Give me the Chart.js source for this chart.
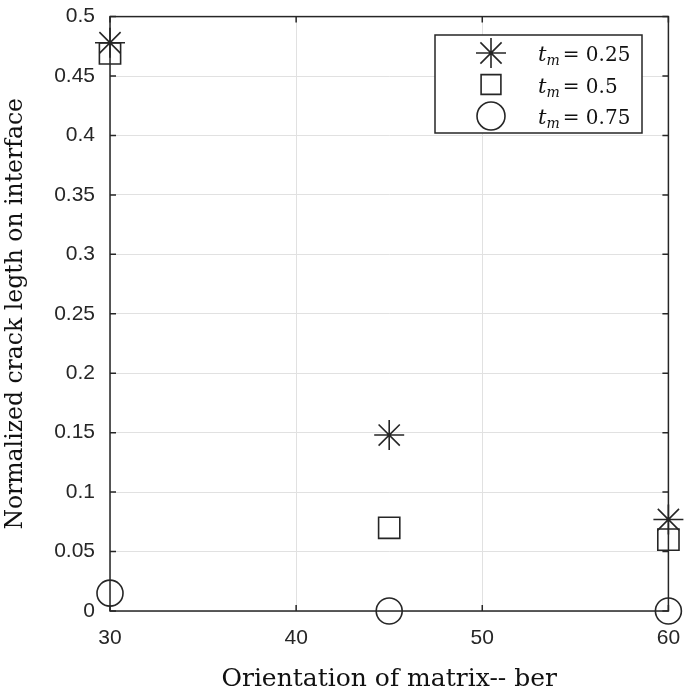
<!DOCTYPE html>
<html>
<head>
<meta charset="utf-8">
<script src="https://cdn.jsdelivr.net/npm/chart.js@4/dist/chart.umd.min.js"></script>
<style>
html,body{margin:0;padding:0;background:#fff;}
#wrap{width:685px;height:695px;}
</style>
</head>
<body>
<div id="wrap"><canvas id="c" width="685" height="695"></canvas></div>
<script>
// ---- data ----
const orientations = [30, 45, 60];
const tm025 = [0.478, 0.148, 0.077];
const tm050 = [0.469, 0.070, 0.060];
const tm075 = [0.015, 0.000, 0.000];
const seriesValues = ['0.25', '0.5', '0.75'];
const xTickValues = [30, 40, 50, 60];
const yTickValues = [0, 0.05, 0.1, 0.15, 0.2, 0.25, 0.3, 0.35, 0.4, 0.45, 0.5];
const yTickLabels = ['0', '0.05', '0.1', '0.15', '0.2', '0.25', '0.3', '0.35', '0.4', '0.45', '0.5'];
const xTitle = 'Orientation of matrix-- ber';
const yTitle = 'Normalized crack legth on interface';

const AX = '#262626';
const SERIF = '"DejaVu Serif", "Liberation Serif", serif';
const SANS = '"Liberation Sans", Arial, sans-serif';
const styles = ['star', 'rect', 'circle'];
const radii = [15, 15, 13];

function pts(ys) { return orientations.map((x, i) => ({x: x, y: ys[i]})); }

const frame = {
  id: 'frame',
  beforeDatasetsDraw(chart) {
    const {ctx, chartArea: a, scales: {x, y}} = chart;
    ctx.save();
    ctx.strokeStyle = AX;
    ctx.lineWidth = 1.5;
    const tl = 6;
    ctx.beginPath();
    xTickValues.forEach(v => {
      const px = x.getPixelForValue(v);
      ctx.moveTo(px, a.bottom); ctx.lineTo(px, a.bottom - tl);
      ctx.moveTo(px, a.top); ctx.lineTo(px, a.top + tl);
    });
    yTickValues.forEach(v => {
      const py = y.getPixelForValue(v);
      ctx.moveTo(a.left, py); ctx.lineTo(a.left + tl, py);
      ctx.moveTo(a.right, py); ctx.lineTo(a.right - tl, py);
    });
    ctx.stroke();
    ctx.strokeRect(a.left, a.top, a.right - a.left, a.bottom - a.top);
    ctx.restore();
  }
};

function marker(ctx, style, r, cx, cy) {
  ctx.save();
  ctx.strokeStyle = AX;
  ctx.fillStyle = 'rgba(0,0,0,0)';
  ctx.lineWidth = 1.6;
  if (Chart.helpers && Chart.helpers.drawPoint) {
    Chart.helpers.drawPoint(ctx, {pointStyle: style, radius: r, borderWidth: 1.6, rotation: 0}, cx, cy);
  } else {
    ctx.beginPath();
    if (style === 'circle') { ctx.arc(cx, cy, r, 0, Math.PI * 2); }
    else if (style === 'rect') { const s = r * Math.SQRT1_2; ctx.rect(cx - s, cy - s, 2 * s, 2 * s); }
    else {
      for (let k = 0; k < 4; k++) {
        const t = k * Math.PI / 4;
        ctx.moveTo(cx - Math.cos(t) * r, cy - Math.sin(t) * r);
        ctx.lineTo(cx + Math.cos(t) * r, cy + Math.sin(t) * r);
      }
    }
    ctx.stroke();
  }
  ctx.restore();
}

const legendBox = {
  id: 'legendBox',
  afterDraw(chart) {
    const ctx = chart.ctx;
    const bx = 435, by = 35, bw = 207, bh = 98;
    ctx.save();
    ctx.fillStyle = '#fff';
    ctx.fillRect(bx, by, bw, bh);
    ctx.strokeStyle = AX;
    ctx.lineWidth = 1.5;
    ctx.strokeRect(bx, by, bw, bh);
    const rows = [53, 84.5, 116];
    seriesValues.forEach((val, i) => {
      const cy = rows[i];
      marker(ctx, styles[i], [15, 14, 14][i], 491, cy);
      ctx.fillStyle = '#111';
      ctx.textBaseline = 'alphabetic';
      let tx = 538;
      const base = cy + 8;
      ctx.font = 'italic 21px ' + SERIF;
      ctx.fillText('t', tx, base);
      tx += ctx.measureText('t').width;
      ctx.font = 'italic 14px ' + SERIF;
      ctx.fillText('m', tx, base + 4);
      tx += ctx.measureText('m').width + 3;
      ctx.font = '20px ' + SERIF;
      ctx.fillText('= ' + val, tx, base);
    });
    ctx.restore();
  }
};

new Chart(document.getElementById('c'), {
  type: 'scatter',
  data: {
    datasets: [tm025, tm050, tm075].map((ys, i) => ({
      label: 't_m = ' + seriesValues[i],
      data: pts(ys),
      pointStyle: styles[i],
      pointRadius: radii[i],
      pointHoverRadius: radii[i],
      pointBorderWidth: 1.6,
      pointBorderColor: AX,
      pointBackgroundColor: 'rgba(0,0,0,0)',
      showLine: false,
      clip: false
    }))
  },
  options: {
    responsive: false,
    animation: false,
    devicePixelRatio: 1,
    layout: {padding: {left: 0, top: 10, right: 16, bottom: 0}},
    plugins: {legend: {display: false}, tooltip: {enabled: false}},
    events: [],
    scales: {
      x: {
        type: 'linear', min: 30, max: 60,
        afterBuildTicks: s => { s.ticks = xTickValues.map(v => ({value: v})); },
        afterFit: s => { s.height = 84; s.paddingLeft = 0; s.paddingRight = 0; },
        ticks: {color: AX, font: {family: SANS, size: 21}, padding: 15, maxRotation: 0,
          callback: v => String(v)},
        grid: {color: '#e1e1e1', lineWidth: 1, drawTicks: false},
        border: {display: false},
        title: {display: true, text: xTitle, color: '#111', font: {family: SERIF, size: 25}, padding: {top: 0, bottom: 1}}
      },
      y: {
        type: 'linear', min: 0, max: 0.5,
        afterBuildTicks: s => { s.ticks = yTickValues.map(v => ({value: v})); },
        afterFit: s => { s.width = 110; s.paddingTop = 0; s.paddingBottom = 0; },
        ticks: {color: AX, font: {family: SANS, size: 21}, padding: 15,
          callback: (v) => { const i = yTickValues.findIndex(t => Math.abs(t - v) < 1e-9); return i >= 0 ? yTickLabels[i] : ''; }},
        grid: {color: '#e1e1e1', lineWidth: 1, drawTicks: false},
        border: {display: false},
        title: {display: true, text: yTitle, color: '#111', font: {family: SERIF, size: 23.5}, padding: {top: 2, bottom: 0}}
      }
    }
  },
  plugins: [frame, legendBox]
});
</script>
</body>
</html>
